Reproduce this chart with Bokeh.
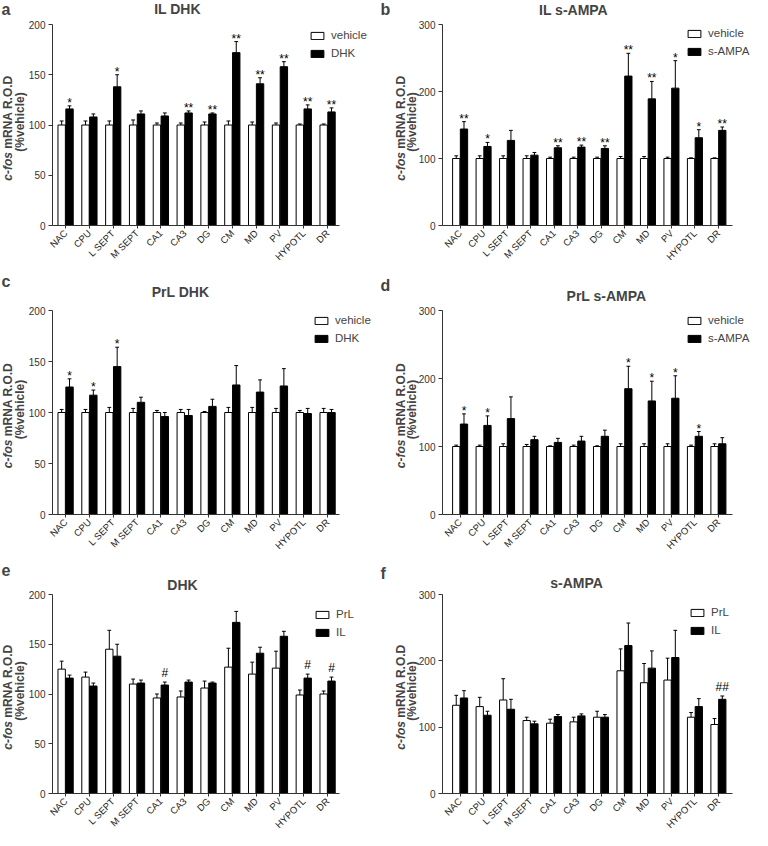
import numpy as np
from bokeh.plotting import figure
from bokeh.models import Range1d, FixedTicker, Label, Legend, LegendItem, ColumnDataSource
from bokeh.layouts import gridplot
from bokeh.embed import file_html
from bokeh.resources import INLINE
from bokeh.core.properties import value

# ---------------- data ----------------
regions = ["NAC", "CPU", "L SEPT", "M SEPT", "CA1", "CA3", "DG", "CM", "MD", "PV", "HYPOTL", "DR"]
vehicle = [100, 100, 100, 100, 100, 100, 100, 100, 100, 100, 100, 100]

il_dhk = [116, 108, 138, 111, 109, 112, 111, 172, 141, 158, 116, 113]
il_dhk_err = [3, 3, 12, 3, 3, 2, 1, 11, 6, 5, 4, 4]
il_dhk_veh_err = [4, 4, 4, 5, 2, 2, 3, 4, 3, 2, 1, 1]

il_ampa = [144, 118, 127, 105, 116, 117, 115, 223, 189, 205, 131, 142]
il_ampa_err = [11, 6, 15, 4, 3, 3, 4, 34, 26, 41, 12, 5]
il_ampa_veh_err = [4, 4, 4, 4, 2, 2, 2, 3, 3, 2, 1, 1]

prl_dhk = [125, 117, 145, 110, 96, 97, 106, 127, 120, 126, 99, 100]
prl_dhk_err = [8, 5, 19, 5, 4, 6, 7, 19, 12, 17, 5, 3]
prl_dhk_veh_err = [3, 3, 5, 4, 2, 3, 1, 5, 5, 4, 2, 4]

prl_ampa = [133, 131, 141, 110, 106, 108, 115, 185, 167, 171, 115, 104]
prl_ampa_err = [15, 14, 32, 5, 6, 7, 9, 33, 29, 33, 7, 9]
prl_ampa_veh_err = [2, 2, 4, 3, 1, 2, 1, 4, 4, 4, 2, 4]

sig_a = ["*", "", "*", "", "", "**", "**", "**", "**", "**", "**", "**"]
sig_b = ["**", "*", "", "", "**", "**", "**", "**", "**", "*", "*", "**"]
sig_c = ["*", "*", "*", "", "", "", "", "", "", "", "", ""]
sig_d = ["*", "*", "", "", "", "", "", "*", "*", "*", "*", ""]
sig_e = ["", "", "", "", "#", "", "", "", "", "", "#", "#"]
sig_f = ["", "", "", "", "", "", "", "", "", "", "", "##"]

dhk_ticks = [0, 50, 100, 150, 200]
ampa_ticks = [0, 100, 200, 300]

# ---------------- layout (page pixel geometry) ----------------
FONT = "Liberation Sans"
COLG = [dict(left=8, right=384, FL=60, FR=347, xr=(-0.55, 11.5), yl1=15, yl2=27),
        dict(left=384, right=760, FL=450, FR=740, xr=(-0.75, 11.6), yl1=408, yl2=419)]
ROWG = [dict(top=8, bottom=280, FT=32, FB=233),
        dict(top=280, bottom=560, FT=318, FB=522),
        dict(top=560, bottom=838, FT=602, FB=801)]


def make_panel(letter, title, white, white_err, black, black_err, wname, bname,
               marks, ticks, col, row, letter_xy, title_xy, legend_xy):
    c = COLG[col]
    r = ROWG[row]
    xr0, xr1 = c["xr"]
    ymax = ticks[-1]
    kx = (xr1 - xr0) / (c["FR"] - c["FL"])
    ky = ymax / (r["FB"] - r["FT"])
    x_start = xr0 - (c["FL"] - c["left"]) * kx
    x_end = xr1 + (c["right"] - c["FR"]) * kx
    y_start = -(r["bottom"] - r["FB"]) * ky
    y_end = ymax + (r["FT"] - r["top"]) * ky
    W = c["right"] - c["left"]
    H = r["bottom"] - r["top"]

    p = figure(width=W, height=H, x_range=Range1d(x_start, x_end), y_range=Range1d(y_start, y_end),
               min_border=0, min_border_left=0, min_border_right=0, min_border_top=0,
               min_border_bottom=0, output_backend="svg", toolbar_location=None)
    p.title.visible = False
    p.xgrid.visible = False
    p.ygrid.visible = False
    p.outline_line_color = None
    p.background_fill_color = "white"
    p.border_fill_color = "white"

    def sx(px):  # page x -> screen x relative to canvas left
        return px - c["left"]

    def sy(py):  # page y -> screen y measured from canvas bottom
        return r["bottom"] - py

    x = np.arange(len(regions))
    off = 0.165
    w = 0.31
    wtop = np.array(white) + np.array(white_err)
    btop = np.array(black) + np.array(black_err)
    src = ColumnDataSource(dict(xw=x - off, xb=x + off, white=white, black=black,
                                wtop=wtop, btop=btop, marks=marks))
    cap = 0.08
    p.segment(x0="xw", y0="white", x1="xw", y1="wtop", source=src, line_color="black", line_width=1)
    p.segment(x0="xb", y0="black", x1="xb", y1="btop", source=src, line_color="black", line_width=1)
    p.segment(x0=x - off - cap, y0=wtop, x1=x - off + cap, y1=wtop, line_color="black", line_width=1)
    p.segment(x0=x + off - cap, y0=btop, x1=x + off + cap, y1=btop, line_color="black", line_width=1)
    rw = p.vbar(x="xw", top="white", bottom=0, width=w, source=src,
                fill_color="white", line_color="black", line_width=1)
    rb = p.vbar(x="xb", top="black", bottom=0, width=w, source=src,
                fill_color="black", line_color="black", line_width=1)
    yoff = -9 if "#" in "".join(marks) else -3
    p.text(x="xb", y="btop", text="marks", source=src, text_align="center",
           text_baseline="middle", y_offset=yoff, text_font=value(FONT),
           text_font_size="12px", text_color="black")

    # axes fixed at the data origin so the whole canvas is the frame
    p.xaxis.fixed_location = 0
    p.xaxis.bounds = (xr0, xr1)
    p.xaxis.ticker = FixedTicker(ticks=list(range(len(regions))))
    p.xaxis.major_label_overrides = {i: n for i, n in enumerate(regions)}
    p.xaxis.major_label_orientation = np.pi / 4
    p.xaxis.major_label_text_font = FONT
    p.xaxis.major_label_text_font_size = "9.5px"
    p.xaxis.major_label_text_color = "#222222"
    p.xaxis.major_label_standoff = 3
    p.xaxis.major_tick_out = 3
    p.xaxis.major_tick_in = 0
    p.xaxis.minor_tick_line_color = None
    p.xaxis.axis_line_color = "#333333"
    p.xaxis.major_tick_line_color = "#333333"

    p.yaxis.fixed_location = xr0
    p.yaxis.bounds = (0, ymax)
    p.yaxis.ticker = FixedTicker(ticks=ticks)
    p.yaxis.major_label_text_font = FONT
    p.yaxis.major_label_text_font_size = "10px"
    p.yaxis.major_label_text_color = "#333333"
    p.yaxis.major_label_standoff = 3
    p.yaxis.major_tick_out = 4
    p.yaxis.major_tick_in = 0
    p.yaxis.minor_tick_line_color = None
    p.yaxis.axis_line_color = "#333333"
    p.yaxis.major_tick_line_color = "#333333"

    # legend
    item_h, gap = 14, 4
    leg_h = 2 * item_h + gap
    lx, ly = legend_xy  # page position of the top-left of the first legend box
    leg_top = ly - (item_h - 9) / 2
    legend = Legend(items=[LegendItem(label=wname, renderers=[rw]),
                           LegendItem(label=bname, renderers=[rb])],
                    location=(sx(lx), sy(leg_top + leg_h)),
                    glyph_width=16, glyph_height=9, label_height=item_h, spacing=gap,
                    padding=0, margin=0, label_standoff=6,
                    label_text_font=FONT, label_text_font_size="11.5px",
                    border_line_color=None, background_fill_alpha=0)
    p.add_layout(legend)

    # y-axis label: "c-fos" italic + "mRNA R.O.D", second line "(%vehicle)"
    fs = 12
    w1 = (2.389 + 0.278) * fs
    total = 8.778 * fs
    mid = (r["FT"] + r["FB"]) / 2
    start = mid + 3 + total / 2  # page y of the bottom end of line 1
    p.add_layout(Label(x=sx(c["yl1"]), y=sy(start), x_units="screen", y_units="screen", text="c-fos",
                       angle=np.pi / 2, text_align="left", text_baseline="middle",
                       text_font=FONT, text_font_size=f"{fs}px", text_font_style="bold italic"))
    p.add_layout(Label(x=sx(c["yl1"]), y=sy(start) + w1, x_units="screen", y_units="screen",
                       text="mRNA R.O.D", angle=np.pi / 2, text_align="left", text_baseline="middle",
                       text_font=FONT, text_font_size=f"{fs}px", text_font_style="bold"))
    p.add_layout(Label(x=sx(c["yl2"]), y=sy(mid - 3), x_units="screen", y_units="screen",
                       text="(%vehicle)", angle=np.pi / 2, text_align="center", text_baseline="middle",
                       text_font=FONT, text_font_size=f"{fs}px", text_font_style="bold"))

    # title and panel letter
    tx, ty = title_xy
    p.add_layout(Label(x=sx(tx), y=sy(ty), x_units="screen", y_units="screen", text=title,
                       text_align="center", text_baseline="middle", text_font=FONT,
                       text_font_size="14px", text_font_style="bold"))
    ex, ey = letter_xy
    p.add_layout(Label(x=sx(ex), y=sy(ey), x_units="screen", y_units="screen", text=letter,
                       text_align="left", text_baseline="top", text_font=FONT,
                       text_font_size="16px", text_font_style="bold"))
    return p


pa = make_panel("a", "IL DHK", vehicle, il_dhk_veh_err, il_dhk, il_dhk_err, "vehicle", "DHK",
                sig_a, dhk_ticks, 0, 0, (9, 8), (185, 16), (317, 38.5))
pb = make_panel("b", "IL s-AMPA", vehicle, il_ampa_veh_err, il_ampa, il_ampa_err, "vehicle", "s-AMPA",
                sig_b, ampa_ticks, 1, 0, (388, 8), (581, 17), (694, 36.5))
pc = make_panel("c", "PrL DHK", vehicle, prl_dhk_veh_err, prl_dhk, prl_dhk_err, "vehicle", "DHK",
                sig_c, dhk_ticks, 0, 1, (9, 280), (188, 299), (321, 323.5))
pd = make_panel("d", "PrL s-AMPA", vehicle, prl_ampa_veh_err, prl_ampa, prl_ampa_err, "vehicle", "s-AMPA",
                sig_d, ampa_ticks, 1, 1, (388, 284), (614, 303), (694, 323.5))
pe = make_panel("e", "DHK", prl_dhk, prl_dhk_err, il_dhk, il_dhk_err, "PrL", "IL",
                sig_e, dhk_ticks, 0, 2, (9, 571), (190, 592), (322, 617.5))
pf = make_panel("f", "s-AMPA", prl_ampa, prl_ampa_err, il_ampa, il_ampa_err, "PrL", "IL",
                sig_f, ampa_ticks, 1, 2, (388, 572), (584, 590), (697, 615.5))

grid = gridplot([[pa, pb], [pc, pd], [pe, pf]], toolbar_location=None)

open("out.html", "w").write(file_html(grid, INLINE))
